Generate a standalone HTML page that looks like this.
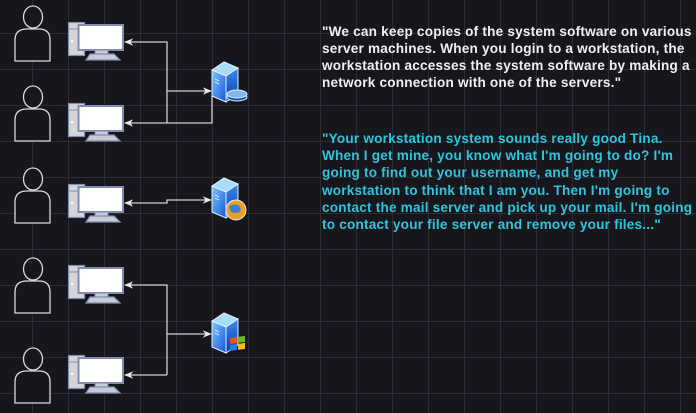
<!DOCTYPE html>
<html><head><meta charset="utf-8"><style>
html,body{margin:0;padding:0;background:#18161d;}
#c{position:relative;width:696px;height:413px;overflow:hidden;
background-color:#18161d;
background-image:linear-gradient(to right,#2d2b33 1px,transparent 1px),linear-gradient(to bottom,#2d2b33 1px,transparent 1px);
background-size:36px 36px;background-position:32px 33px;}
.t{position:absolute;left:322px;white-space:nowrap;font-family:"Liberation Sans",sans-serif;font-size:13.6px;font-weight:bold;letter-spacing:0.2px;line-height:17px;}
.w{color:#f0f0f0}.b{color:#2cc5dc}
svg{position:absolute;left:0;top:0}
</style></head><body><div id="c">
<svg width="696" height="413" viewBox="0 0 696 413">
<defs>
<symbol id="person" viewBox="0 0 40 62" overflow="visible">
<ellipse cx="18" cy="11" rx="9.5" ry="11" fill="#18161d" stroke="#d8d8d8" stroke-width="1.3"/>
<path d="M0,55 L0,34 Q0,23 12,23 L24,23 Q35,23 35,34 L35,55 Z" fill="#18161d" stroke="#d8d8d8" stroke-width="1.3"/>
</symbol>
<symbol id="pc" viewBox="0 0 56 39" overflow="visible">
<rect x="0.5" y="0.5" width="16" height="33" fill="#d6d6d8" stroke="#7f8db0" stroke-width="1.2"/>
<line x1="1" y1="7" x2="10" y2="7" stroke="#7f8db0"/>
<rect x="3" y="18" width="2" height="2" fill="#fff"/>
<rect x="10.5" y="3" width="44.5" height="25" fill="#fff" stroke="#7f8db0" stroke-width="2"/>
<rect x="27" y="28" width="13" height="4" fill="#c8cbd6" stroke="#7f8db0" stroke-width="1"/>
<path d="M18,38 L22,32 L46,32 L52,38 Z" fill="#c8cbd6" stroke="#7f8db0" stroke-width="1.2"/>
</symbol>
<linearGradient id="sf" x1="0" y1="0" x2="1" y2="1"><stop offset="0" stop-color="#7fc8ff"/><stop offset="1" stop-color="#1456d8"/></linearGradient>
<linearGradient id="ss" x1="0" y1="0" x2="0" y2="1"><stop offset="0" stop-color="#3a8cf0"/><stop offset="1" stop-color="#0b3aa8"/></linearGradient>
<symbol id="srv" viewBox="0 0 26 40" overflow="visible">
<path d="M0,8 L12,0 L26,6 L14,14 Z" fill="#a8dcff" stroke="#e0f2ff" stroke-width="1"/>
<path d="M0,8 L14,14 L14,40 L0,34 Z" fill="url(#sf)" stroke="#e0f2ff" stroke-width="1"/>
<path d="M14,14 L26,6 L26,32 L14,40 Z" fill="url(#ss)" stroke="#e0f2ff" stroke-width="1"/>
<line x1="3" y1="17" x2="7" y2="19" stroke="#dff" stroke-width="0.8"/>
<line x1="3" y1="20" x2="7" y2="22" stroke="#dff" stroke-width="0.8"/>
</symbol>
<marker id="a" viewBox="0 0 10 10" refX="9" refY="5" markerWidth="7" markerHeight="7" orient="auto-start-reverse"><path d="M0,1 L10,5 L0,9 L3,5 Z" fill="#e8e8e8"/></marker>
</defs>
<use href="#person" x="15" y="6" width="40" height="62"/>
<use href="#person" x="15" y="86" width="40" height="62"/>
<use href="#person" x="15" y="168" width="40" height="62"/>
<use href="#person" x="15" y="258" width="40" height="62"/>
<use href="#person" x="15" y="348" width="40" height="62"/>
<use href="#pc" x="68" y="22" width="56" height="39"/>
<use href="#pc" x="68" y="103" width="56" height="39"/>
<use href="#pc" x="68" y="184" width="56" height="39"/>
<use href="#pc" x="68" y="265" width="56" height="39"/>
<use href="#pc" x="68" y="355" width="56" height="39"/>
<g fill="none" stroke="#cfcfcf" stroke-width="1.3">
<polyline points="167,123 167,42 125,42" marker-end="url(#a)"/>
<line x1="167" y1="91" x2="211" y2="91" marker-end="url(#a)"/>
<polyline points="212,96 212,123 125,123" marker-end="url(#a)"/>
<polyline points="125,203 167,203 167,200 211,200" marker-start="url(#a)" marker-end="url(#a)"/>
<polyline points="167,375 167,285 125,285" marker-end="url(#a)"/>
<polyline points="167,375 125,375" marker-end="url(#a)"/>
<line x1="167" y1="334" x2="211" y2="334" marker-end="url(#a)"/>
</g>
<use href="#srv" x="212" y="62" width="26" height="40"/>
<ellipse cx="237" cy="97" rx="10" ry="4" fill="#1e4fc0" stroke="#dfefff"/>
<ellipse cx="237" cy="94" rx="10" ry="4" fill="#7fb6f0" stroke="#dfefff"/>
<use href="#srv" x="212" y="178" width="26" height="40"/>
<circle cx="236" cy="210" r="10" fill="#f0a020" stroke="#dfefff"/>
<path d="M229,207 Q233,203 238,205 Q242,208 240,212 Q235,214 231,212 Z" fill="#3a7fd8"/>
<use href="#srv" x="212" y="313" width="26" height="40"/>
<g transform="translate(230,338) skewY(-8)">
<rect x="0" y="0" width="7" height="6" fill="#e8502a"/><rect x="8" y="0" width="7" height="6" fill="#6ab82a"/>
<rect x="0" y="7" width="7" height="6" fill="#2a7ae8"/><rect x="8" y="7" width="7" height="6" fill="#f0c020"/>
</g>
</svg>
<div class="t w" style="top:23px">"We can keep copies of the system software on various</div>
<div class="t w" style="top:40px">server machines. When you login to a workstation, the</div>
<div class="t w" style="top:57px">workstation accesses the system software by making a</div>
<div class="t w" style="top:74px">network connection with one of the servers."</div>
<div class="t b" style="top:130px">"Your workstation system sounds really good Tina.</div>
<div class="t b" style="top:147px">When I get mine, you know what I'm going to do? I'm</div>
<div class="t b" style="top:164px">going to find out your username, and get my</div>
<div class="t b" style="top:182px">workstation to think that I am you. Then I'm going to</div>
<div class="t b" style="top:199px">contact the mail server and pick up your mail. I'm going</div>
<div class="t b" style="top:216px">to contact your file server and remove your files..."</div>
</div></body></html>
